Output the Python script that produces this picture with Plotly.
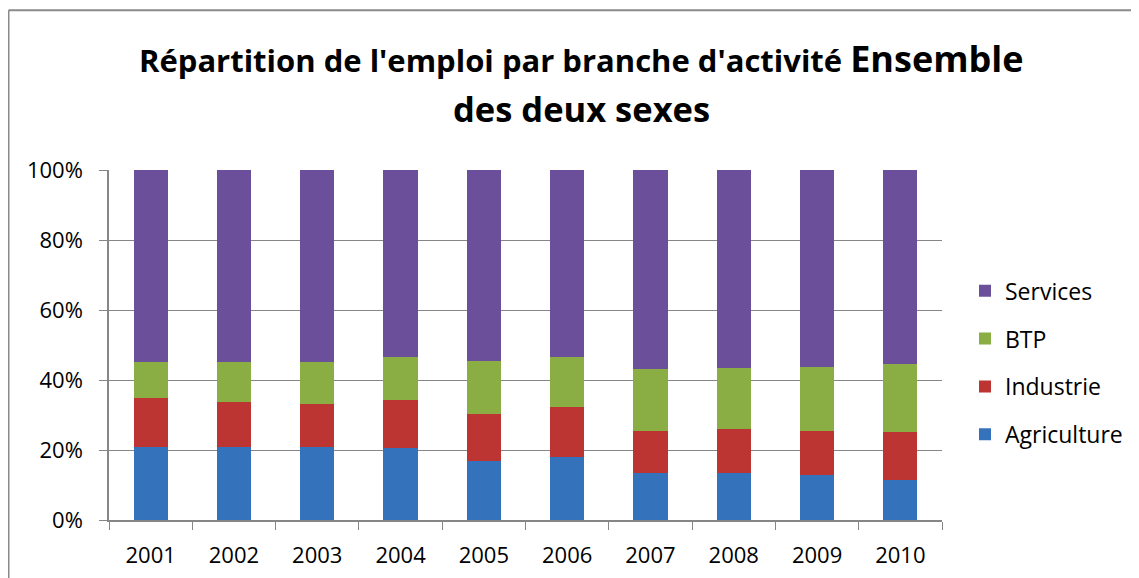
import plotly.graph_objects as go

years = ["2001", "2002", "2003", "2004", "2005", "2006", "2007", "2008", "2009", "2010"]
agriculture = [20.9, 20.9, 20.9, 20.6, 16.9, 18.0, 13.4, 13.4, 12.9, 11.4]
industrie = [14.0, 12.8, 12.2, 13.7, 13.4, 14.3, 12.0, 12.6, 12.5, 13.7]
btp = [10.2, 11.4, 12.0, 12.3, 15.1, 14.3, 17.7, 17.4, 18.3, 19.5]
services = [54.9, 54.9, 54.9, 53.4, 54.6, 53.4, 56.9, 56.6, 56.3, 55.4]

series = [
    ("Agriculture", agriculture, "#3572BC", 4),
    ("Industrie", industrie, "#BC3532", 3),
    ("BTP", btp, "#8AAE43", 2),
    ("Services", services, "#6C4F9A", 1),
]

FONT = "Open Sans"
W, H = 1131, 570
# plot area in figure pixels (page has an 8px body margin)
PL, PR, PT, PB = 101, 934, 162, 512.5


def px(x):
    return (x - PL) / (PR - PL)


def py(y):
    return (PB - y) / (PB - PT)


fig = go.Figure()
for name, vals, col, rank in series:
    fig.add_trace(go.Bar(x=years, y=vals, name=name, marker=dict(color=col, line=dict(width=0)),
                         legendgroup=name, legendrank=rank))

fig.update_layout(
    barmode="stack",
    bargap=0.59,
    width=W, height=H,
    paper_bgcolor="white", plot_bgcolor="white",
    margin=dict(l=PL, r=W - PR, t=PT, b=H - PB, autoexpand=False),
    font=dict(family=FONT, color="black", size=22),
    showlegend=True,
    legend=dict(
        traceorder="grouped", x=px(957), xanchor="left", y=py(355), yanchor="middle",
        font=dict(family=FONT, size=23), tracegroupgap=15, itemwidth=30,
    ),
    xaxis=dict(
        type="category", showline=True, linecolor="#868686", linewidth=1.5,
        ticks="outside", tickson="boundaries", tickcolor="#868686", ticklen=8,
        tickfont=dict(family=FONT, size=22), ticklabelstandoff=15,
    ),
    yaxis=dict(
        range=[0, 100], dtick=20, ticksuffix="%", showgrid=True, gridcolor="#868686",
        gridwidth=1.2, showline=True, linecolor="#868686", linewidth=1.5,
        ticks="outside", tickcolor="#868686", ticklen=8, tickfont=dict(family=FONT, size=22),
        zeroline=False, ticklabelstandoff=12,
    ),
    annotations=[
        dict(text="<b>Répartition de l'emploi par branche d'activité <span style='font-size:36px'>Ensemble</span></b>",
             xref="paper", yref="paper", x=px(573), y=py(50), xanchor="center", yanchor="middle",
             showarrow=False, font=dict(family=FONT, size=31, color="black")),
        dict(text="<b>des deux sexes</b>",
             xref="paper", yref="paper", x=px(573), y=py(100), xanchor="center", yanchor="middle",
             showarrow=False, font=dict(family=FONT, size=34.5, color="black")),
    ],
    shapes=[
        dict(type="line", xref="paper", yref="paper", x0=px(0.5), x1=px(W + 5), y0=py(2), y1=py(2),
             line=dict(color="#8A8A8A", width=2)),
        dict(type="line", xref="paper", yref="paper", x0=px(0.5), x1=px(0.5), y0=py(2), y1=py(H + 5),
             line=dict(color="#8A8A8A", width=2)),
    ],
)

fig.write_html("out.html")
